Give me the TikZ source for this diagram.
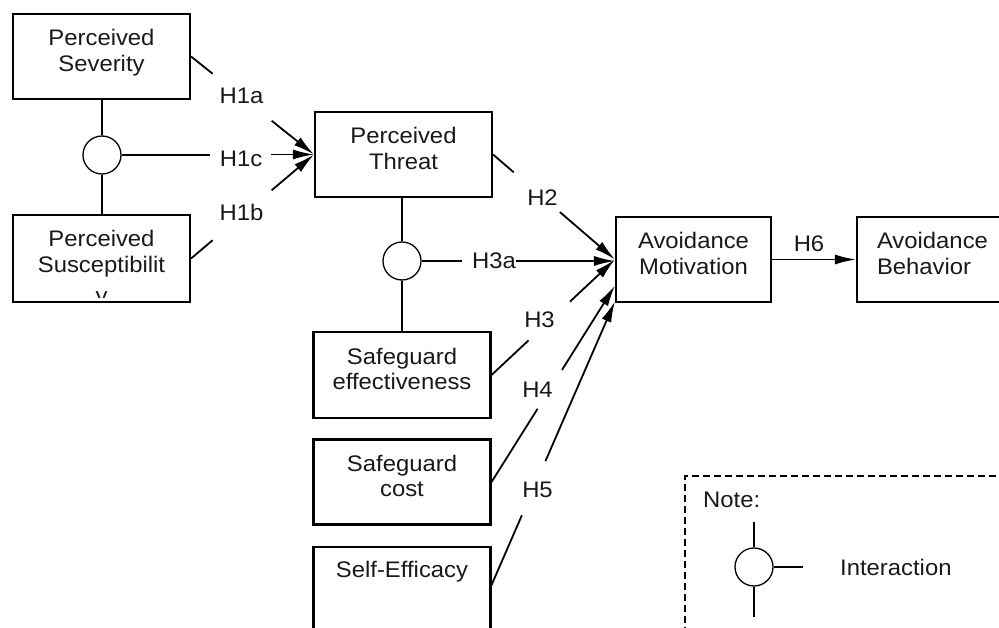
\documentclass[tikz,border=0pt]{standalone}
\usepackage{fontspec}
\setmainfont{Liberation Sans}[FakeStretch=1.06]
\usetikzlibrary{arrows.meta,calc}
\newcommand\twol[2]{\rule{0pt}{18bp}#1\\#2\rule[-14bp]{0pt}{14bp}}
\begin{document}
\begin{tikzpicture}[x=1bp,y=-1bp,
  every node/.style={font=\fontsize{22.5bp}{25.5bp}\selectfont, text=black!90},
  box/.style={draw, line width=2.1bp, minimum width=177bp, minimum height=85bp, inner sep=0pt, align=center},
  inter/.style={draw, circle, line width=1.3bp, minimum size=38bp, inner sep=0pt},
  link/.style={line width=1.8bp},
  thin link/.style={line width=1.3bp},
  arr/.style={line width=1.8bp, -{Latex[length=21bp,width=10bp]}},
  hyp/.style={inner sep=0pt},
  ]
\useasboundingbox (0,0) rectangle (999,628);
\clip (0,0) rectangle (999,628);

% boxes
\node[box] (sev) at (101.5,56.5) {\twol{Perceived}{Severity}};
\node[box, minimum height=87bp] (sus) at (101.5,258.5) {};
\begin{scope}
  \clip (14,216) rectangle (189,297);
  \node[anchor=base] (sus1) at (101.5,247) {Perceived};
  \node[anchor=base] (sus2) at (101.5,273) {Susceptibilit};
  \node[anchor=base] (sus3) at (101.5,303) {y};
\end{scope}
\node[box] (thr) at (403.5,154.5) {\twol{Perceived}{Threat}};
\node[box, minimum width=155bp] (am) at (693.5,259.5) {\twol{Avoidance}{Motivation}};
\node[box, text width=137bp, align=left] (ab) at (945.5,259.5) {\twol{Avoidance}{Behavior}};
\node[box, minimum height=86bp] (sge) at (402,375) {\twol{Safeguard}{effectiveness}};
\node[box] (sgc) at (402,482) {\twol{Safeguard}{cost}};
\node[box, minimum height=90bp, anchor=north] (se) at (402,546) {};
\node[anchor=base] (selbl) at (402,577) {Self-Efficacy};

% interaction circles
\node[inter] (c1) at (102,155) {};
\node[inter] (c2) at (402,261) {};

% hypothesis labels
\node[hyp] (h1a) at (241.5,96) {H1a};
\node[hyp] (h1c) at (241,159) {H1c};
\node[hyp] (h1b) at (241.5,212.5) {H1b};
\node[hyp] (h2) at (542.5,197.5) {H2};
\node[hyp] (h3a) at (494,261) {H3a};
\node[hyp] (h3) at (539.5,319.5) {H3};
\node[hyp] (h4) at (537.5,389.5) {H4};
\node[hyp] (h5) at (537.5,489.5) {H5};
\node[hyp] (h6) at (809,243.5) {H6};

% end points on Avoidance Motivation
\coordinate (am4) at ($(am.south west)!0.2!(am.north west)$);
\coordinate (am5) at ($(am.south west)!0.02!(am.north west)$);
\coordinate (se5) at ($(se.north east)+(0,39)$);

% interaction links
\draw[thin link] (sev.south -| c1) -- (c1.north);
\draw[thin link] (c1.south) -- (sus.north -| c1);
\draw[thin link] (thr.south -| c2) -- (c2.north);
\draw[thin link] (c2.south) -- (sge.north);

% H1a
\draw[link] (sev.east) -- ($(sev.east)!0.176!(thr.west)$);
\draw[arr] ($(sev.east)!0.656!(thr.west)$) -- (thr.west);
% H1c
\draw[link] (c1.east) -- ([xshift=-10bp]c1.east -| h1c.west);
\draw[arr] ([xshift=9bp]h1c.east |- thr.west) -- (thr.west);
% H1b
\draw[link] (sus.east) -- ($(sus.east)!0.176!(thr.west)$);
\draw[arr] ($(sus.east)!0.656!(thr.west)$) -- (thr.west);
% H2
\draw[link] (thr.east) -- ($(thr.east)!0.17!(am.west)$);
\draw[arr] ($(thr.east)!0.548!(am.west)$) -- (am.west);
% H3a
\draw[link] (c2.east) -- ([xshift=-10bp]c2.east -| h3a.west);
\draw[arr] (h3a.east) -- (h3a.east -| am.west);
% H3
\draw[link] (sge.east) -- ($(sge.east)!0.30!(am.west)$);
\draw[arr] ($(sge.east)!0.635!(am.west)$) -- (am.west);
% H4
\draw[link] (sgc.east) -- ($(sgc.east)!0.373!(am4)$);
\draw[arr] ($(sgc.east)!0.571!(am4)$) -- (am4);
% H5
\draw[link] (se5) -- ($(se5)!0.246!(am5)$);
\draw[arr] ($(se5)!0.437!(am5)$) -- (am5);
% H6
\draw[arr] (am.east) -- (ab.west);

% note
\node[draw, line width=1.6bp, dash pattern=on 7bp off 4bp, minimum width=340bp, minimum height=170bp, anchor=north west, inner sep=0pt] (note) at (684,475) {};
\node[anchor=west, inner sep=0pt] (notelbl) at (703,500) {Note:};
\node[inter] (c3) at (754,567) {};
\coordinate (n1) at (754,522);
\coordinate (n2) at (754,617);
\coordinate (n3) at (803,567);
\draw[thin link] (n1) -- (c3.north);
\draw[thin link] (c3.south) -- (n2);
\draw[thin link] (c3.east) -- (n3);
\node[anchor=west, inner sep=0pt] (intlbl) at (840,567) {Interaction};
\end{tikzpicture}
\end{document}
